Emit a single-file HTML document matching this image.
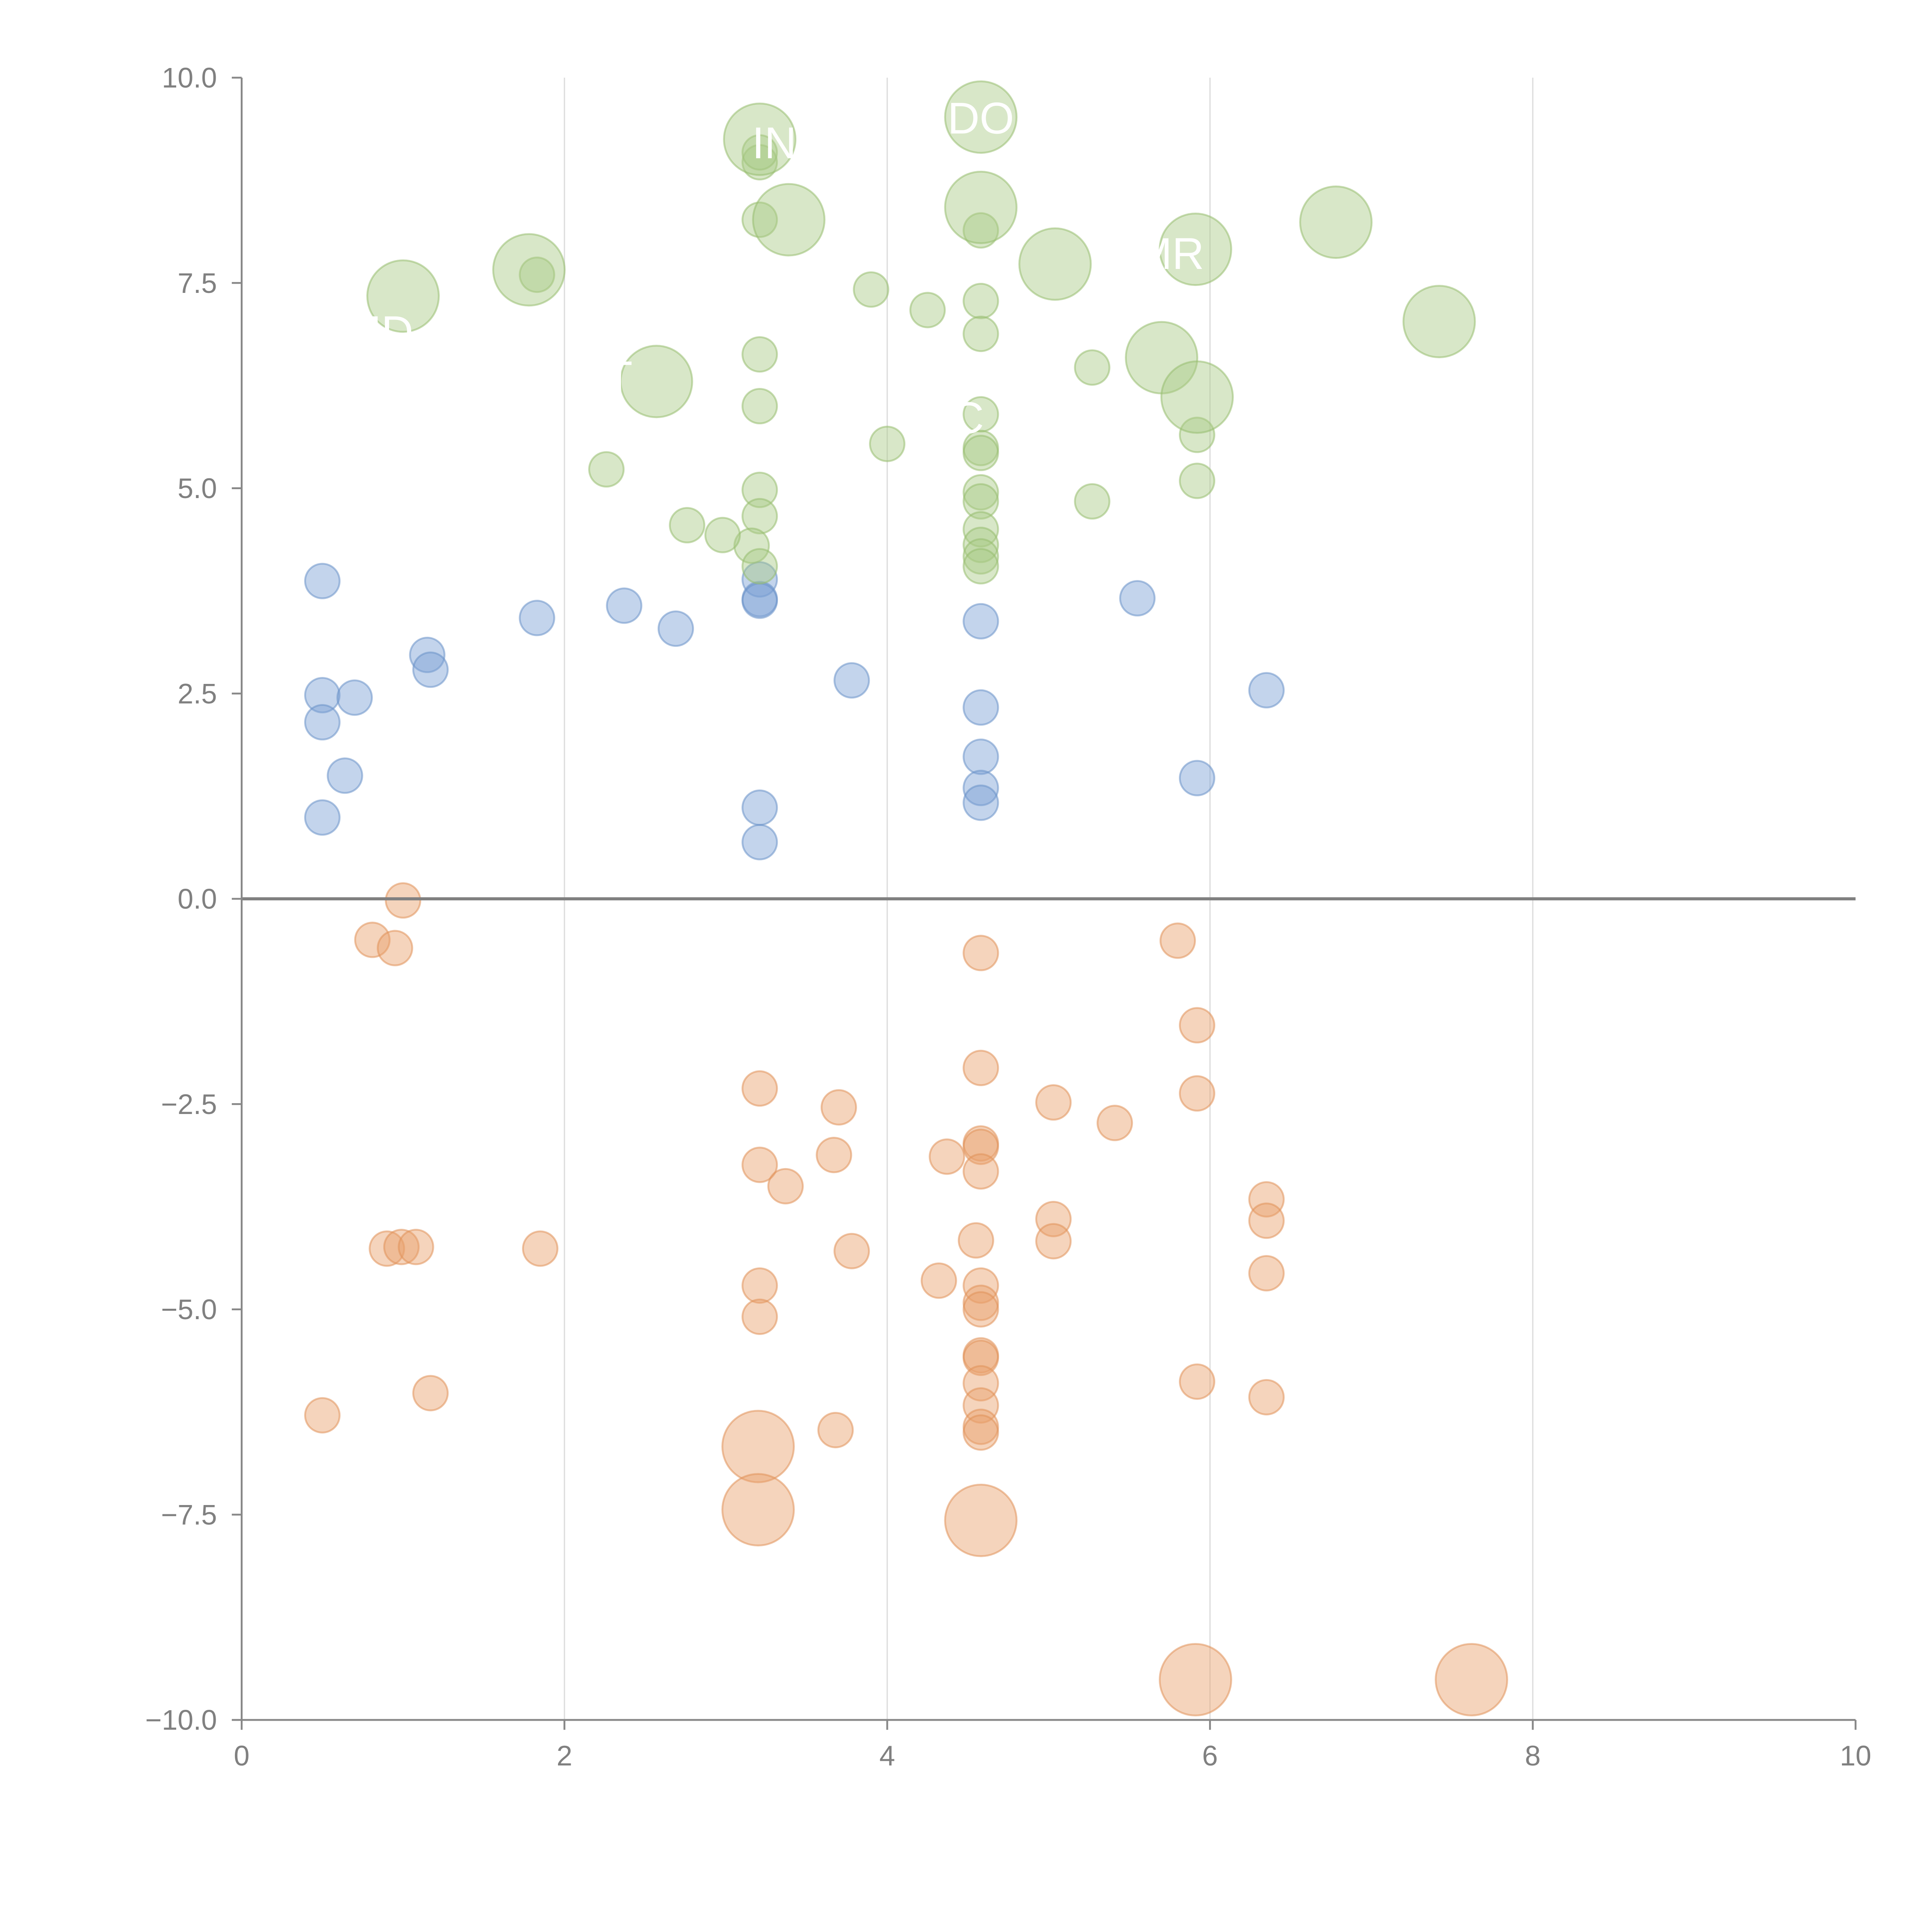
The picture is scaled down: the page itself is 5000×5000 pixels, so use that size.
<!DOCTYPE html>
<html><head><meta charset="utf-8"><style>
html,body{margin:0;padding:0;background:#fff;}
svg{display:block;}
text{font-family:"Liberation Sans",Arial,sans-serif;}
</style></head>
<body>
<svg id="chart" width="5000" height="5000" viewBox="0 0 1567 1567" xmlns="http://www.w3.org/2000/svg">
<g id="grid"></g>
<g id="marks"></g>
<g id="axes"></g>
<g id="labels"></g>
</svg>
<script>
const xTicks=[0,2,4,6,8,10];
const yTicks=[10,7.5,5,2.5,0,-2.5,-5,-7.5,-10];
const yTickLabels=["10.0","7.5","5.0","2.5","0.0","\u22122.5","\u22125.0","\u22127.5","\u221210.0"];

const blueX=[0.5,0.5,0.5,0.7,0.64,0.5,1.15,1.17,1.83,2.37,2.69,3.21,3.21,3.21,3.21,3.21,3.78,4.58,4.58,4.58,4.58,4.58,5.55,5.92,6.35];
const blueY=[3.87,2.48,2.15,2.45,1.5,0.99,2.97,2.79,3.42,3.57,3.29,3.89,3.65,3.63,1.11,0.69,2.66,3.38,2.33,1.73,1.35,1.17,3.66,1.47,2.54];
const blueS=[1,1,1,1,1,1,1,1,1,1,1,1,1,1,1,1,1,1,1,1,1,1,1,1,1];

const orangeX=[1.0,0.81,0.95,0.90,0.99,1.08,1.85,0.5,1.17,3.21,3.21,3.37,3.21,3.21,3.7,3.67,3.78,3.68,4.32,4.37,4.55,4.58,4.58,4.58,4.58,4.58,4.58,4.58,4.58,4.58,4.58,4.58,4.58,4.58,4.58,5.03,5.03,5.03,5.41,5.8,5.92,5.92,5.92,6.35,6.35,6.35,6.35,3.2,3.2,4.58,5.91,7.62];
const orangeY=[-0.02,-0.5,-0.6,-4.26,-4.24,-4.24,-4.26,-6.29,-6.02,-2.31,-3.24,-3.5,-4.71,-5.09,-2.54,-3.12,-4.29,-6.47,-4.65,-3.14,-4.16,-0.66,-2.06,-2.98,-3.02,-3.32,-4.71,-4.92,-5.0,-5.56,-5.59,-5.9,-6.17,-6.43,-6.5,-2.48,-3.9,-4.17,-2.73,-0.51,-1.54,-2.37,-5.88,-3.66,-3.92,-4.56,-6.07,-6.67,-7.44,-7.57,-9.51,-9.51];
const orangeS=[1,1,1,1,1,1,1,1,1,1,1,1,1,1,1,1,1,1,1,1,1,1,1,1,1,1,1,1,1,1,1,1,1,1,1,1,1,1,1,1,1,1,1,1,1,1,1,2,2,2,2,2];

const greenX=[3.21,3.21,3.21,3.21,3.21,3.21,3.21,3.16,3.21,2.98,2.76,2.26,1.83,3.9,4.25,4.0,4.58,4.58,4.58,4.58,4.58,4.58,4.58,4.58,4.58,4.58,4.58,4.58,5.27,5.27,5.92,5.92,
 1.0,1.78,2.57,3.21,3.39,4.58,4.58,5.04,5.91,6.78,5.7,5.92,7.42];
const greenY=[8.97,9.09,8.27,6.63,6.0,4.98,4.66,4.3,4.05,4.43,4.55,5.23,7.6,7.42,7.17,5.54,8.14,7.28,6.88,5.9,5.49,5.43,4.95,4.84,4.5,4.31,4.17,4.05,6.47,4.84,5.65,5.09,
 7.34,7.66,6.3,9.25,8.27,9.52,8.42,7.73,7.91,8.24,6.59,6.11,7.03];
const greenS=[1,1,1,1,1,1,1,1,1,1,1,1,1,1,1,1,1,1,1,1,1,1,1,1,1,1,1,1,1,1,1,1,
 2,2,2,2,2,2,2,2,2,2,2,2,2];

const labelText=["DO","IN","MR","IT","C","MD"];
const labelX=[4.58,3.3,5.75,2.3,4.5,0.85];
const labelY=[9.5,9.2,7.85,6.35,5.85,6.9];

const NS="http://www.w3.org/2000/svg";
const X0=196,X1=1505,Y0=1395,Y1=63;
function sx(v){return X0+(v-0)/(10-0)*(X1-X0);}
function sy(v){return Y0-(v+10)/20*(Y0-Y1);}
function mk(tag,attrs,parent){const e=document.createElementNS(NS,tag);for(const k in attrs)e.setAttribute(k,attrs[k]);parent.appendChild(e);return e;}

const grid=document.getElementById('grid');
xTicks.forEach(t=>{ if(t>0&&t<10){
  const l=mk('line',{x1:sx(t),x2:sx(t),y1:Y1,y2:Y0,stroke:'#dcdcdc','stroke-width':1},grid);
  
  
}});

const marks=document.getElementById('marks');
function series(xs,ys,ss,fill,stroke,name){
  const g=mk('g',{},marks);
  
  
  xs.forEach((x,i)=>{
    const r=ss[i]>1?29:14;
    const c=mk('circle',{cx:sx(x),cy:sy(ys[i]),r:r,fill:fill,'fill-opacity':0.45,stroke:stroke,'stroke-opacity':0.55,'stroke-width':1.5},g);
    
    
  });
}
series(blueX,blueY,blueS,'#7aa0d4','#6a92c8','blue');
series(orangeX,orangeY,orangeS,'#e9a06a','#e0925a','orange');
series(greenX,greenY,greenS,'#a9c984','#98bd70','green');

const axes=document.getElementById('axes');
const zl=mk('line',{x1:X0,x2:X1,y1:sy(0),y2:sy(0),stroke:'#808080','stroke-width':2.5},axes);


const ya=mk('line',{x1:X0,x2:X0,y1:Y1,y2:Y0,stroke:'#888','stroke-width':1.5},axes);


const xa=mk('line',{x1:X0,x2:X1,y1:Y0,y2:Y0,stroke:'#888','stroke-width':1.5},axes);


yTicks.forEach((t,i)=>{
  mk('line',{x1:X0-8,x2:X0,y1:sy(t),y2:sy(t),stroke:'#888','stroke-width':1.5},axes);
  const tx=mk('text',{x:X0-20,y:sy(t)+8,'text-anchor':'end','font-size':23,fill:'#808080'},axes);
  tx.textContent=yTickLabels[i];
  
  
});
xTicks.forEach(t=>{
  mk('line',{x1:sx(t),x2:sx(t),y1:Y0,y2:Y0+8,stroke:'#888','stroke-width':1.5},axes);
  const tx=mk('text',{x:sx(t),y:Y0+37,'text-anchor':'middle','font-size':23,fill:'#808080'},axes);
  tx.textContent=String(t);
  
  
});

const labels=document.getElementById('labels');
labelText.forEach((s,i)=>{
  const tx=mk('text',{x:sx(labelX[i]),y:sy(labelY[i])+12,'text-anchor':'middle','font-size':36,fill:'#ffffff'},labels);
  tx.textContent=s;
  
  
});
</script>
</body></html>
